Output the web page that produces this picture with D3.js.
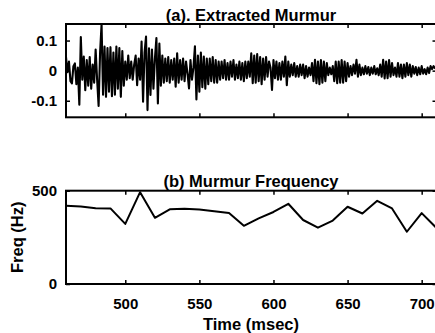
<!DOCTYPE html>
<html>
<head>
<meta charset="utf-8">
<script src="https://cdn.jsdelivr.net/npm/d3@7"></script>
<style>
    body { margin: 0; background: #fff; }
    text { font-family: "Liberation Sans", Arial, sans-serif; font-weight: bold; fill: #000; }
</style>
</head>
<body>
<svg id="chart" width="435" height="333"></svg>
<script>
    // murmur waveform, one sample per msec starting at 460 msec
    let waveStart = 460
    let waveStep = 1
    let waveValues = [
        0.045, -0.005, 0.03, -0.035, -0.042, 0.015, 0.024, -0.045, 0.01, -0.113,
        0.112, -0.03, 0.047, -0.065, 0.035, -0.05, 0.045, -0.06, 0.02, -0.04,
        0.07, -0.03, -0.117, 0.06, 0.155, -0.08, 0.08, -0.087, 0.075, -0.07,
        0.078, -0.085, 0.06, -0.08, 0.08, -0.06, 0.075, -0.087, 0.065, -0.05,
        0.03, -0.03, 0.05, -0.025, 0.03, -0.03, 0.02, 0.05, -0.048, 0.04,
        -0.03, 0.097, -0.103, 0.06, 0.113, -0.131, 0.074, -0.081, 0.07, -0.06,
        0.04, 0.108, -0.109, 0.09, -0.05, 0.05, -0.04, 0.04, -0.035, 0.045,
        -0.04, 0.035, -0.03, 0.04, -0.053, 0.058, -0.04, 0.035, -0.03, 0.04,
        -0.035, 0.03, -0.01, -0.059, 0.035, -0.03, 0.01, 0.081, -0.096, 0.05,
        -0.07, 0.06, -0.055, 0.047, -0.06, 0.04, -0.045, 0.04, -0.035, 0.045,
        -0.04, 0.035, -0.04, 0.03, -0.03, 0.03, -0.025, 0.035, -0.03, 0.025,
        -0.03, 0.03, -0.02, 0.035, -0.03, 0.02, -0.025, 0.03, -0.03, 0.025,
        -0.035, 0.03, -0.025, 0.03, -0.02, 0.058, -0.042, 0.05, -0.04, 0.055,
        -0.035, 0.045, -0.045, 0.04, -0.03, 0.045, -0.02, 0.03, 0.01, -0.064,
        0.035, -0.025, 0.03, -0.03, 0.025, -0.03, 0.03, -0.02, 0.047, -0.048,
        0.03, -0.02, 0.02, -0.015, 0.025, -0.02, 0.015, -0.02, 0.02, -0.015,
        0.02, -0.025, 0.015, -0.02, 0.01, -0.015, 0.025, -0.035, 0.036, -0.042,
        0.03, -0.045, 0.035, -0.04, 0.03, -0.035, 0.025, -0.015, 0.01, -0.012,
        0.015, -0.035, 0.03, -0.042, 0.03, -0.04, 0.035, -0.04, 0.03, -0.035,
        0.025, -0.02, 0.015, -0.015, 0.02, -0.01, 0.036, -0.02, 0.02, -0.015,
        0.01, -0.012, 0.015, -0.01, 0.012, -0.015, 0.01, -0.01, 0.015, -0.012,
        0.008, -0.015, 0.02, -0.02, 0.036, -0.026, 0.03, -0.025, 0.035, -0.02,
        0.025, -0.015, 0.01, -0.02, 0.025, -0.02, 0.02, -0.025, 0.02, -0.02,
        0.025, -0.015, 0.02, -0.02, 0.015, -0.01, 0.012, -0.015, 0.01, -0.012,
        0.015, -0.01, 0.005, -0.012, 0.01, -0.008, 0.015, 0.005, 0.015, 0.008,
        0.01
    ]

    // murmur frequency estimate every 10 msec
    let freqTimes = [460, 470, 480, 490, 500, 510, 520, 530, 540, 550, 560, 570, 580,
        590, 600, 610, 620, 630, 640, 650, 660, 670, 680, 690, 700, 710]
    let freqValues = [420, 415, 406, 405, 322, 492, 355, 400, 403, 399, 390, 381, 312,
        352, 386, 430, 343, 302, 340, 414, 378, 446, 405, 280, 380, 300]

    let timeDomain = [460, 710]
    let timeTicks = [500, 550, 600, 650, 700]
    let waveDomain = [-0.155, 0.155]
    let waveTicks = [-0.1, 0, 0.1]
    let freqDomain = [0, 500]
    let freqTicks = [0, 500]

    let titleA = "(a). Extracted Murmur"
    let titleB = "(b) Murmur Frequency"
    let xLabel = "Time (msec)"
    let yLabelB = "Freq (Hz)"

    let svg = d3.select("#chart")
    let left = 66, right = 436.5

    let xScale = d3.scaleLinear().domain(timeDomain).range([left, right])

    function drawPanel(id, top, bottom, yDomain, yTicks, data, showXLabels, lineWidth) {
        let yScale = d3.scaleLinear().domain(yDomain).range([bottom, top])
        let g = svg.append("g").attr("id", id)

        g.append("clipPath").attr("id", id + "-clip")
            .append("rect")
            .attr("x", left).attr("y", top)
            .attr("width", right - left).attr("height", bottom - top)

        let line = d3.line()
            .x(d => xScale(d.t))
            .y(d => yScale(d.v))

        g.append("path")
            .datum(data)
            .attr("clip-path", "url(#" + id + "-clip)")
            .attr("d", line)
            .attr("fill", "none")
            .attr("stroke", "#000")
            .attr("stroke-width", lineWidth)
            .attr("stroke-linejoin", "round")

        let fmt = d => String(d)

        // bottom axis (ticks point inward)
        g.append("g")
            .attr("transform", "translate(0," + bottom + ")")
            .call(d3.axisBottom(xScale).tickValues(timeTicks).tickSizeInner(-4).tickSizeOuter(0)
                .tickPadding(14).tickFormat(showXLabels ? fmt : ""))
        // top axis, ticks only
        g.append("g")
            .attr("transform", "translate(0," + top + ")")
            .call(d3.axisTop(xScale).tickValues(timeTicks).tickSizeInner(-4).tickSizeOuter(0).tickFormat(""))
        // left axis
        g.append("g")
            .attr("transform", "translate(" + left + ",0)")
            .call(d3.axisLeft(yScale).tickValues(yTicks).tickSizeInner(-4).tickSizeOuter(0)
                .tickPadding(9).tickFormat(fmt))
        // right axis, ticks only
        g.append("g")
            .attr("transform", "translate(" + right + ",0)")
            .call(d3.axisRight(yScale).tickValues(yTicks).tickSizeInner(-4).tickSizeOuter(0).tickFormat(""))

        g.selectAll(".domain").remove()
        g.selectAll(".tick line").attr("stroke", "#000").attr("stroke-width", 1.5)
        g.selectAll(".tick text")
            .style("font-size", "15px")
            .style("font-family", "'Liberation Sans', Arial, sans-serif")
            .style("font-weight", "bold")
            .attr("fill", "#000")

        g.append("rect")
            .attr("x", left).attr("y", top)
            .attr("width", right - left).attr("height", bottom - top)
            .attr("fill", "none")
            .attr("stroke", "#000")
            .attr("stroke-width", 2)

        return g
    }

    let waveData = waveValues.map((v, i) => ({ t: waveStart + i * waveStep, v: v }))
    let freqData = freqTimes.map((t, i) => ({ t: t, v: freqValues[i] }))

    drawPanel("panel-a", 24, 117.3, waveDomain, waveTicks, waveData, false, 2.1)
    drawPanel("panel-b", 190.7, 284, freqDomain, freqTicks, freqData, true, 2)

    let mid = 251
    svg.append("text")
        .attr("x", mid).attr("y", 20.5)
        .attr("text-anchor", "middle")
        .style("font-size", "16.5px")
        .text(titleA)

    svg.append("text")
        .attr("x", mid).attr("y", 186.8)
        .attr("text-anchor", "middle")
        .style("font-size", "16.5px")
        .text(titleB)

    svg.append("text")
        .attr("x", mid).attr("y", 329.5)
        .attr("text-anchor", "middle")
        .style("font-size", "16.5px")
        .text(xLabel)

    svg.append("text")
        .attr("transform", "translate(22.7,237.3) rotate(-90)")
        .attr("text-anchor", "middle")
        .style("font-size", "16.5px")
        .text(yLabelB)
</script>
</body>
</html>
